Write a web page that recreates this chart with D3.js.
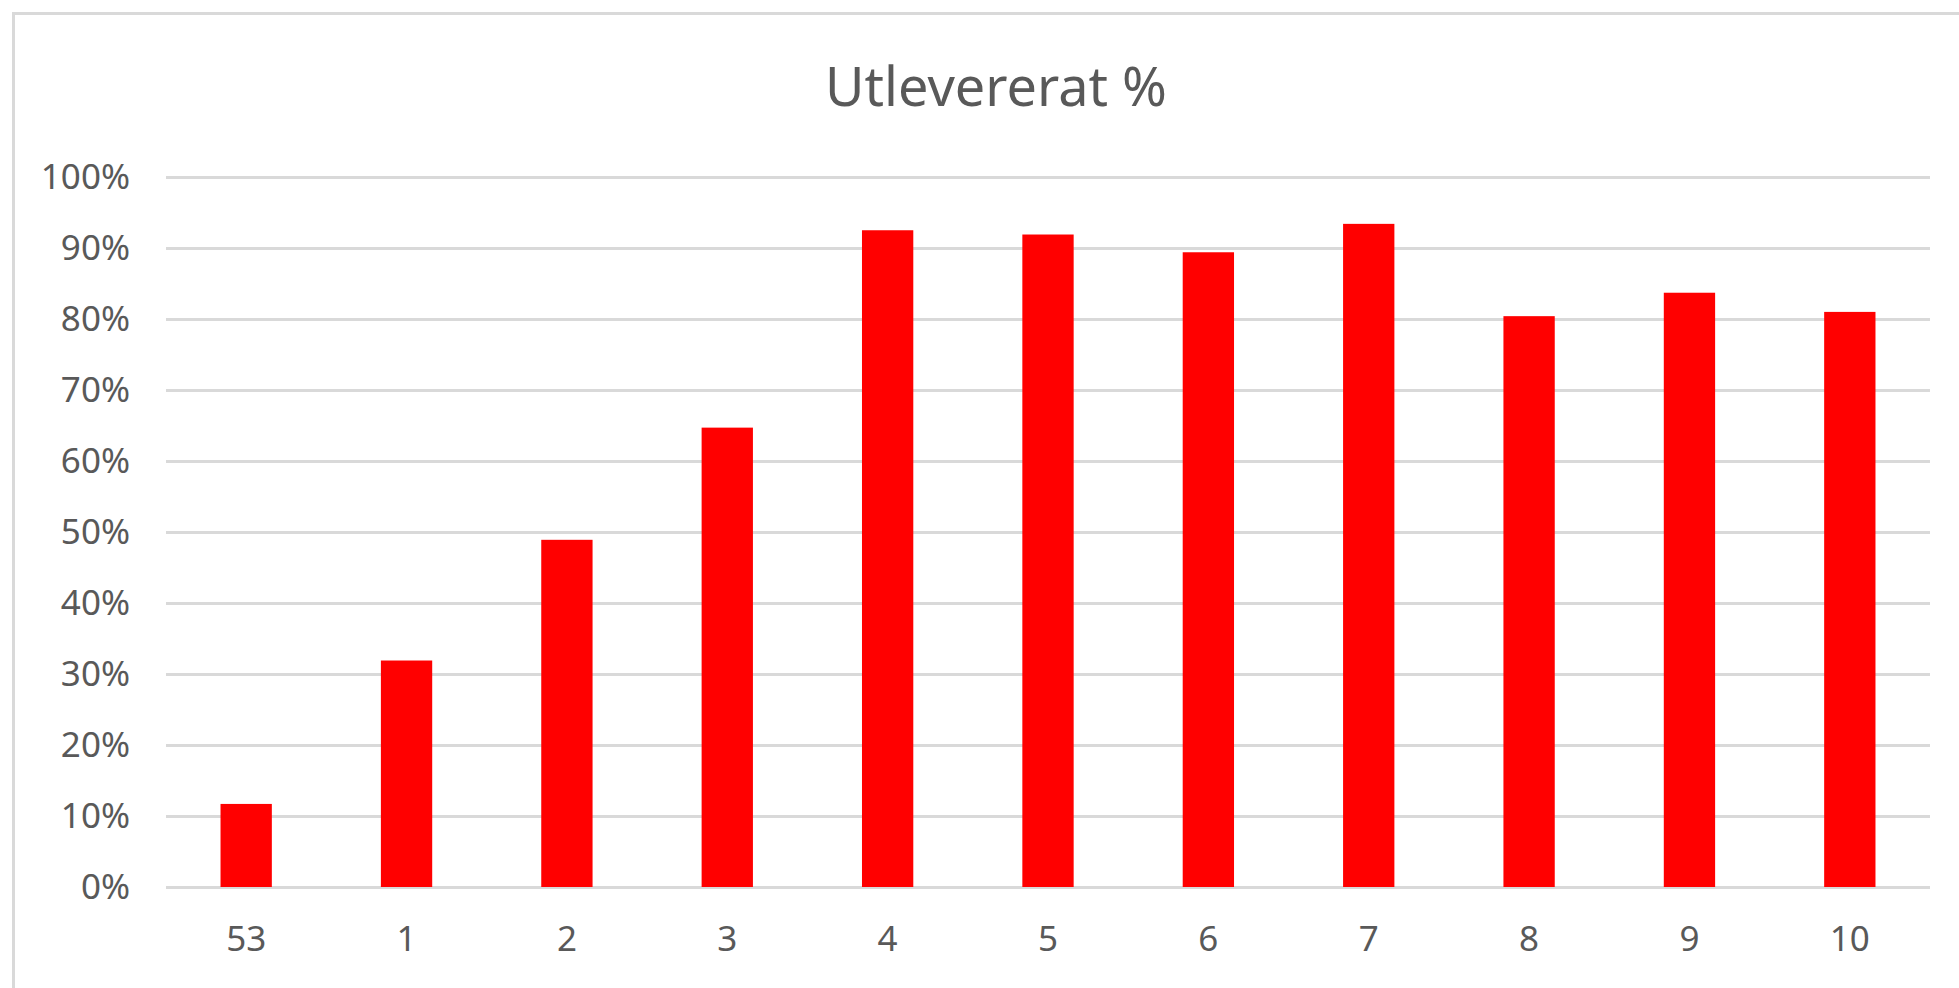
<!DOCTYPE html>
<html>
<head>
<meta charset="utf-8">
<script src="https://cdn.jsdelivr.net/npm/d3@7"></script>
<style>
  html, body { margin: 0; padding: 0; background: #fff; }
  svg { display: block; }
</style>
</head>
<body>
<svg id="chart" width="1959" height="988"></svg>
<script>
const title = "Utlevererat %";
const categories = ["53", "1", "2", "3", "4", "5", "6", "7", "8", "9", "10"];
const values = [0.117, 0.319, 0.489, 0.647, 0.925, 0.919, 0.894, 0.934, 0.804, 0.837, 0.810];
const yTicks = [0, 0.1, 0.2, 0.3, 0.4, 0.5, 0.6, 0.7, 0.8, 0.9, 1.0];

const W = 1959, H = 988;
const margin = { left: 166, right: 29, top: 177, bottom: 101 };
const font = "'Noto Sans', 'Open Sans', sans-serif";
const textColor = "#595959";

const svg = d3.select("#chart");

// chart area outline (left + top visible)
svg.append("path")
  .attr("d", `M13.5,${H} L13.5,13.5 L${W},13.5`)
  .attr("fill", "none")
  .attr("stroke", "#d9d9d9")
  .attr("stroke-width", 3);

const x = d3.scaleBand()
  .domain(categories)
  .range([margin.left, W - margin.right])
  .paddingInner(0.68)
  .paddingOuter(0.34);

const y = d3.scaleLinear()
  .domain([0, 1])
  .range([H - margin.bottom, margin.top]);

// gridlines + y labels
const yAxis = d3.axisLeft(y)
  .tickValues(yTicks)
  .tickFormat(d3.format(".0%"))
  .tickSize(-(W - margin.right - margin.left))
  .tickPadding(36);

const gy = svg.append("g")
  .attr("transform", `translate(${margin.left},0)`)
  .call(yAxis);
gy.select(".domain").remove();
gy.selectAll(".tick line")
  .attr("stroke", "#d9d9d9")
  .attr("stroke-width", 3);
gy.selectAll(".tick text")
  .attr("fill", textColor)
  .attr("font-family", font)
  .attr("font-size", 35);

// bars
svg.append("g")
  .selectAll("rect")
  .data(values)
  .join("rect")
  .attr("x", (d, i) => x(categories[i]))
  .attr("width", x.bandwidth())
  .attr("y", d => y(d))
  .attr("height", d => y(0) - y(d))
  .attr("fill", "#ff0000");

// x axis labels
const xAxis = d3.axisBottom(x).tickSize(0).tickPadding(39);
const gx = svg.append("g")
  .attr("transform", `translate(0,${y(0)})`)
  .call(xAxis);
gx.select(".domain").remove();
gx.selectAll(".tick text")
  .attr("fill", textColor)
  .attr("font-family", font)
  .attr("font-size", 35);

// title
svg.append("text")
  .attr("x", 996)
  .attr("y", 106)
  .attr("text-anchor", "middle")
  .attr("fill", textColor)
  .attr("font-family", font)
  .attr("font-size", 54)
  .text(title);
</script>
</body>
</html>
